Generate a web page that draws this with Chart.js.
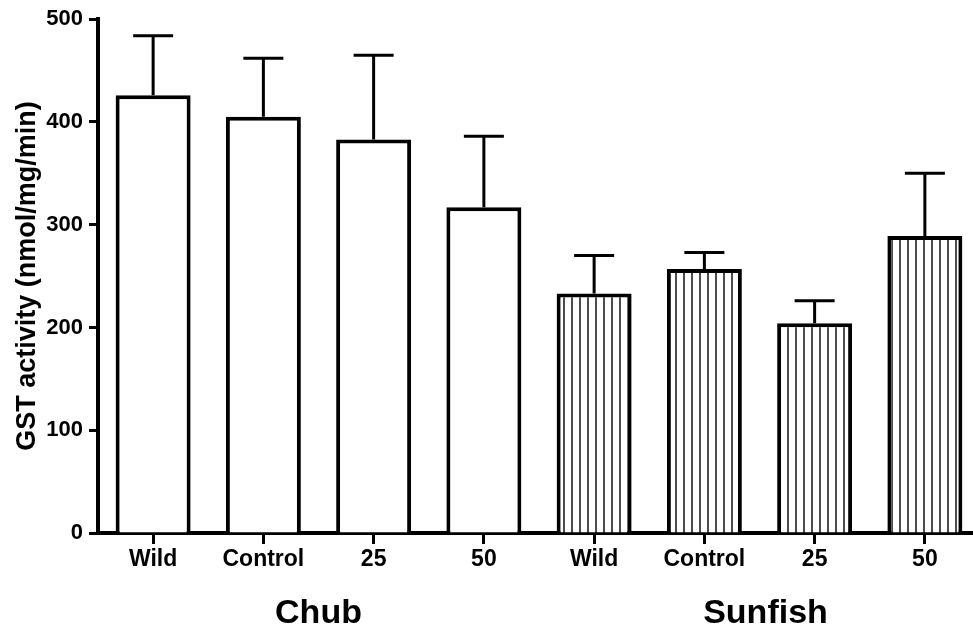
<!DOCTYPE html>
<html>
<head>
<meta charset="utf-8">
<script src="https://cdn.jsdelivr.net/npm/chart.js@4"></script>
<style>
  html, body { margin: 0; padding: 0; background: #fff; overflow: hidden; }
  #wrap { width: 973px; height: 632px; overflow: hidden; }
</style>
</head>
<body>
<div id="wrap"><canvas id="gst" width="980" height="632"></canvas></div>
<script>
// data
const groups = ['Chub', 'Sunfish'];
const treatments = ['Wild', 'Control', '25', '50'];
const chubMeans = [426, 405, 383, 317];
const chubSem = [58, 57, 82, 69];
const sunfishMeans = [233, 257, 204, 289];
const sunfishSem = [37, 16, 22, 61];
const yTicks = [0, 100, 200, 300, 400, 500];

const FONT = "'Liberation Sans', Arial, sans-serif";

// vertical hatch for the sunfish bars
function hatch() {
  const c = document.createElement('canvas');
  c.width = 8; c.height = 8;
  const g = c.getContext('2d');
  g.fillStyle = '#fff';
  g.fillRect(0, 0, 8, 8);
  g.fillStyle = '#000';
  g.fillRect(3.3, 0, 1.4, 8);
  return g.createPattern(c, 'repeat');
}

const labels = [...treatments, ...treatments];
const means = [...chubMeans, ...sunfishMeans];
const sems = [...chubSem, ...sunfishSem];
const pat = hatch();
const fills = [...chubMeans.map(() => '#fff'), ...sunfishMeans.map(() => pat)];

// error bars (upper only) + group names under the axis
const extras = {
  id: 'extras',
  afterDatasetsDraw(chart) {
    const ctx = chart.ctx;
    const y = chart.scales.y;
    const bars = chart.getDatasetMeta(0).data;
    ctx.save();
    ctx.strokeStyle = '#000';
    ctx.lineWidth = 3;
    bars.forEach((b, i) => {
      const top = y.getPixelForValue(means[i] + sems[i]);
      ctx.beginPath();
      ctx.moveTo(b.x, b.y);
      ctx.lineTo(b.x, top);
      ctx.moveTo(b.x - 20, top);
      ctx.lineTo(b.x + 20, top);
      ctx.stroke();
    });
    ctx.restore();
  },
  afterDraw(chart) {
    const ctx = chart.ctx;
    const x = chart.scales.x;
    ctx.save();
    ctx.fillStyle = '#000';
    ctx.font = 'bold 34px ' + FONT;
    ctx.textAlign = 'center';
    ctx.textBaseline = 'middle';
    groups.forEach((g, k) => {
      const a = x.getPixelForValue(k * 4 + 1);
      const b = x.getPixelForValue(k * 4 + 2);
      ctx.fillText(g, (a + b) / 2 + k * 6, 614);
    });
    ctx.restore();
  }
};

new Chart(document.getElementById('gst').getContext('2d'), {
  type: 'bar',
  data: {
    labels: labels,
    datasets: [{
      data: means,
      backgroundColor: fills,
      borderColor: '#000',
      borderWidth: 4,
      borderSkipped: 'start',
      barPercentage: 0.68,
      categoryPercentage: 1
    }]
  },
  options: {
    responsive: false,
    maintainAspectRatio: false,
    animation: false,
    layout: { padding: { top: 19, right: 0, bottom: 0, left: 0 } },
    plugins: { legend: { display: false }, tooltip: { enabled: false } },
    scales: {
      x: {
        grid: { drawOnChartArea: false, offset: false, tickLength: 11, tickWidth: 3, tickColor: '#000' },
        border: { display: true, width: 4, color: '#000' },
        ticks: { color: '#000', padding: 2, font: { family: FONT, size: 23, weight: 'bold' } },
        afterFit(s) { s.height = 99; }
      },
      y: {
        min: 0,
        max: 500,
        afterBuildTicks(s) { s.ticks = yTicks.map(v => ({ value: v })); },
        grid: { drawOnChartArea: false, tickLength: 9, tickWidth: 3, tickColor: '#000' },
        border: { display: true, width: 4, color: '#000' },
        ticks: { color: '#000', padding: 6, font: { family: FONT, size: 22, weight: 'bold' } },
        title: {
          display: true,
          text: 'GST activity (nmol/mg/min)',
          color: '#000',
          padding: { top: 11, bottom: 0 },
          font: { family: FONT, size: 27, weight: 'bold' }
        },
        afterFit(s) { s.width = 98; }
      }
    }
  },
  plugins: [extras]
});
</script>
</body>
</html>
